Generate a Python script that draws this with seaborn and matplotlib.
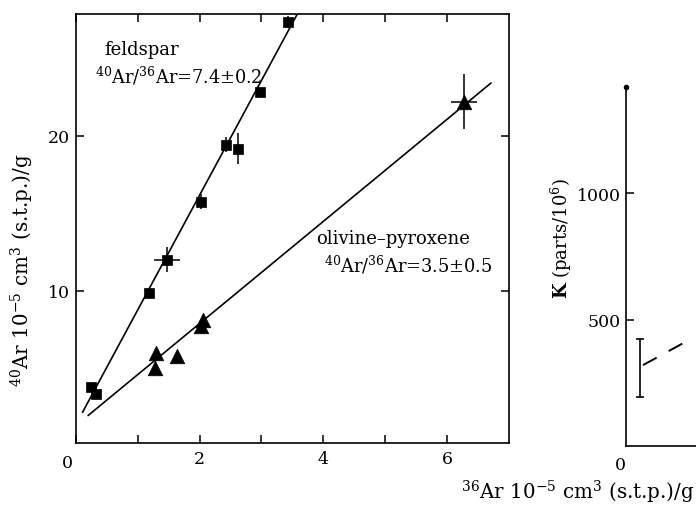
import numpy as np
import matplotlib
matplotlib.use('Agg')
import matplotlib.pyplot as plt
import seaborn as sns

# feldspar (squares)
fs_x = [0.25, 0.33, 1.18, 1.48, 2.02, 2.43, 2.63, 2.97, 3.43]
fs_y = [3.81, 3.34, 9.83, 12.0, 15.74, 19.42, 19.14, 22.84, 27.32]
fs_xerr = [0, 0, 0, 0.21, 0, 0, 0, 0, 0]
fs_yerr = [0, 0, 0, 0.8, 0.5, 0.5, 1.0, 0, 0.4]

# olivine-pyroxene (triangles)
op_x = [1.28, 1.30, 1.63, 2.03, 2.05, 6.28]
op_y = [4.99, 5.98, 5.81, 7.70, 8.10, 22.2]
op_xerr = [0, 0, 0, 0, 0, 0.21]
op_yerr = [0, 0, 0, 0.4, 0, 1.8]

# fitted isochrons (end points)
fs_fit_x = [0.11, 3.58]
fs_fit_y = [2.15, 27.85]
op_fit_x = [0.20, 6.71]
op_fit_y = [1.94, 23.4]

# right-hand panel (K, parts/10^6)
k_x = [0.7]
k_val = [312]
k_lo = [119]
k_hi = [112]
k_dash_x = [0.85, 3.05]
k_dash_y = [320, 415]

sns.set_theme(style='ticks')
plt.rcParams['font.family'] = ['DejaVu Serif']
plt.rcParams['mathtext.fontset'] = 'dejavuserif'
for key in ['text.color', 'axes.labelcolor', 'xtick.color', 'ytick.color', 'axes.edgecolor']:
    plt.rcParams[key] = 'black'

fig = plt.figure(figsize=(6.96, 5.06), dpi=100)
W, H = 696, 506

ax = fig.add_axes([75.7 / W, 1 - 444.3 / H, (509 - 75.7) / W, (444.3 - 15) / H])

# fit lines
sns.lineplot(x=fs_fit_x, y=fs_fit_y, ax=ax, color='black', lw=1.2, sort=False)
sns.lineplot(x=op_fit_x, y=op_fit_y, ax=ax, color='black', lw=1.2, sort=False)

# error bars
ax.errorbar(fs_x, fs_y, xerr=fs_xerr, yerr=fs_yerr, fmt='none', ecolor='black', elinewidth=1.1, capsize=0)
ax.errorbar(op_x, op_y, xerr=op_xerr, yerr=op_yerr, fmt='none', ecolor='black', elinewidth=1.1, capsize=0)

# markers
sns.scatterplot(x=fs_x, y=fs_y, ax=ax, marker='s', s=48, color='black', edgecolor='black', linewidth=0.5, zorder=5)
sns.scatterplot(x=op_x, y=op_y, ax=ax, marker='^', s=110, color='black', edgecolor='black', linewidth=0.5, zorder=5)

ax.set_xlim(0, 7)
ax.set_ylim(0.15, 27.85)
ax.set_xticks(range(0, 7))
ax.set_xticklabels(['', '', '2', '', '4', '', '6'])
ax.set_yticks([10, 20])
ax.tick_params(direction='in', top=True, right=True, length=6, width=1.1, labelsize=12.5, pad=5)
ax.tick_params(axis='y', pad=4)
for sp in ax.spines.values():
    sp.set_linewidth(1.2)
    sp.set_color('black')
ax.text(-0.04, -0.55, '0', ha='right', va='top', fontsize=12.5)

ax.text(0.46, 25.27, 'feldspar', fontsize=13, va='baseline')
ax.text(0.31, 23.46, r'$^{40}$Ar/$^{36}$Ar=7.4$\pm$0.2', fontsize=12.8, va='baseline')
ax.text(3.89, 13.08, 'olivine\u2013pyroxene', fontsize=13, va='baseline')
ax.text(4.01, 11.27, r'$^{40}$Ar/$^{36}$Ar=3.5$\pm$0.5', fontsize=12.8, va='baseline')

fig.text(22 / W, 1 - 270 / H, r'$^{40}$Ar 10$^{-5}$ cm$^{3}$ (s.t.p.)/g', rotation=90,
         ha='center', va='center', fontsize=14.3)
fig.text(578 / W, 1 - 492 / H, r'$^{36}$Ar 10$^{-5}$ cm$^{3}$ (s.t.p.)/g',
         ha='center', va='center', fontsize=14.3)

# right panel, only its left edge is visible
ax2 = fig.add_axes([626 / W, 1 - 447 / H, 200 / W, (447 - 88) / H])
ax2.errorbar(k_x, k_val, yerr=[k_lo, k_hi], fmt='none', ecolor='black', elinewidth=1.2, capsize=3, capthick=1.2)
sns.lineplot(x=k_dash_x, y=k_dash_y, ax=ax2, color='black', lw=1.4, linestyle=(0, (8, 7)), sort=False)
ax2.set_xlim(0, 10)
ax2.set_ylim(0, 1420)
ax2.set_yticks([500, 1000])
ax2.set_xticks([])
ax2.tick_params(direction='in', length=6, width=1.1, labelsize=12.5, pad=4)
ax2.spines['top'].set_visible(False)
ax2.spines['right'].set_visible(False)
for sp in ['left', 'bottom']:
    ax2.spines[sp].set_linewidth(1.2)
    ax2.spines[sp].set_color('black')
ax2.plot([0], [1420], marker='o', ms=3, color='black', clip_on=False)
ax2.text(-0.3, -40, '0', ha='center', va='top', fontsize=12.5)
fig.text(561 / W, 1 - 238 / H, r'$\mathbf{K}$ (parts/10$^{6}$)', rotation=90,
         ha='center', va='center', fontsize=13)

fig.savefig('out.png', dpi=100)
